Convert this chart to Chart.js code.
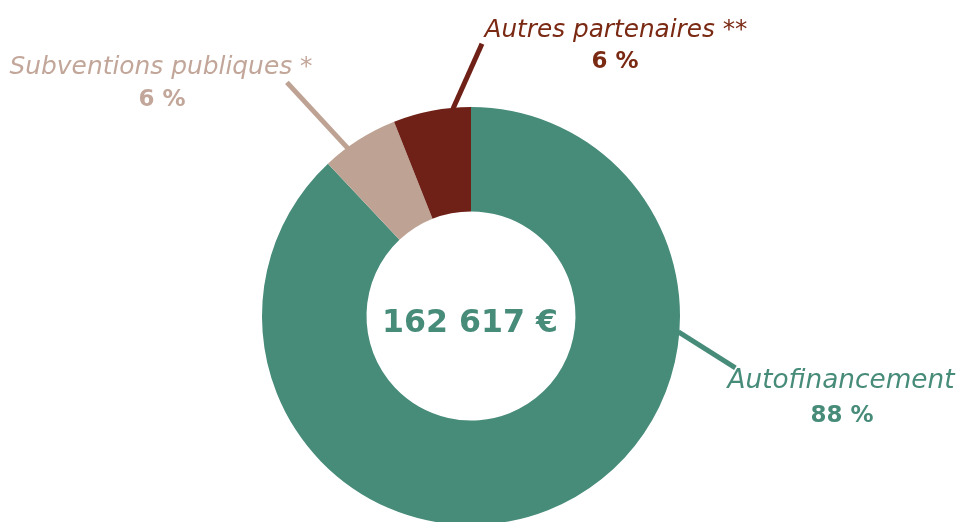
<!DOCTYPE html>
<html>
<head>
<meta charset="utf-8">
<script src="https://cdn.jsdelivr.net/npm/chart.js@4/dist/chart.umd.min.js"></script>
<style>
  html, body { margin: 0; padding: 0; background: #ffffff; overflow: hidden; width: 958px; height: 522px; }
  #wrap { position: absolute; left: 0; top: 0; width: 958px; height: 632px; }
</style>
</head>
<body>
<div id="wrap"><canvas id="c" width="958" height="632"></canvas></div>
<script>
const categories = ['Autofinancement', 'Subventions publiques *', 'Autres partenaires **'];
const shares = [88, 6, 6];
const percentLabels = ['88 %', '6 %', '6 %'];
const totalLabel = '162 617 €';
const sliceColors = ['#478B79', '#BEA394', '#6F2117'];
const textColors = ['#478B79', '#C2A699', '#7A2913'];

// leader line placement: fraction along slice, and outward vector
const leaders = [
  { t: 0.298, dx: 57, dy: 36, label: { x: 841, y: 388 }, pct: { x: 842, y: 422 } },
  { t: 0.32, dx: -61, dy: -66, label: { x: 161, y: 74 }, pct: { x: 162, y: 106 } },
  { t: 0.77, dx: 29, dy: -65, label: { x: 616, y: 37 }, pct: { x: 615, y: 68 } }
];

const labelPlugin = {
  id: 'labels',
  afterDatasetsDraw(chart) {
    const ctx = chart.ctx;
    const meta = chart.getDatasetMeta(0);
    ctx.save();
    meta.data.forEach((arc, i) => {
      const p = arc.getProps(['x', 'y', 'startAngle', 'endAngle', 'outerRadius'], true);
      const L = leaders[i];
      const a = p.startAngle + L.t * (p.endAngle - p.startAngle);
      const sx = p.x + Math.cos(a) * (p.outerRadius - 1);
      const sy = p.y + Math.sin(a) * (p.outerRadius - 1);
      ctx.beginPath();
      ctx.moveTo(sx, sy);
      ctx.lineTo(sx + L.dx, sy + L.dy);
      ctx.strokeStyle = sliceColors[i];
      ctx.lineWidth = 5;
      ctx.lineCap = 'butt';
      ctx.stroke();

      ctx.fillStyle = textColors[i];
      ctx.textAlign = 'center';
      ctx.textBaseline = 'alphabetic';
      ctx.font = 'italic 26px "DejaVu Sans"';
      // fit to reference width
      const targets = [227, 303, 263];
      const w = ctx.measureText(categories[i]).width;
      const fs = 26 * targets[i] / w;
      ctx.font = 'italic ' + fs.toFixed(2) + 'px "DejaVu Sans"';
      ctx.fillText(categories[i], L.label.x, L.label.y);
      ctx.font = 'bold 23px "DejaVu Sans"';
      ctx.fillText(percentLabels[i], L.pct.x, L.pct.y);
    });
    const m0 = meta.data[0];
    ctx.fillStyle = textColors[0];
    ctx.font = 'bold 40px "DejaVu Sans"';
    const tw = ctx.measureText(totalLabel).width;
    ctx.font = 'bold ' + (40 * 176 / tw).toFixed(2) + 'px "DejaVu Sans"';
    ctx.textAlign = 'center';
    ctx.fillText(totalLabel, m0.x - 1, m0.y + 16);
    ctx.restore();
  }
};

new Chart(document.getElementById('c'), {
  type: 'doughnut',
  data: {
    labels: categories,
    datasets: [{
      data: shares,
      backgroundColor: sliceColors,
      borderWidth: 0,
      hoverOffset: 0
    }]
  },
  options: {
    responsive: false,
    animation: false,
    cutout: '50%',
    layout: { padding: { top: 107, bottom: 107, left: 262, right: 278 } },
    plugins: { legend: { display: false }, tooltip: { enabled: false } }
  },
  plugins: [labelPlugin]
});
</script>
</body>
</html>
